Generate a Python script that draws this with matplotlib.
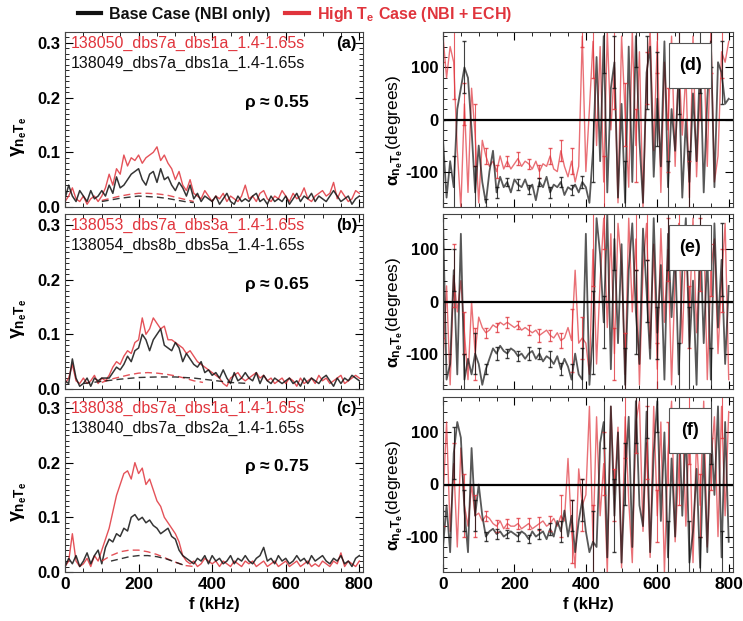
import numpy as np
import matplotlib
matplotlib.use("Agg")
import matplotlib.pyplot as plt
from matplotlib.lines import Line2D
from matplotlib.patches import Rectangle
from matplotlib.ticker import MultipleLocator

plt.rcParams['font.family'] = ['Liberation Sans', 'DejaVu Sans']
plt.rcParams['mathtext.fontset'] = 'custom'
plt.rcParams['mathtext.rm'] = 'Liberation Sans:bold'
plt.rcParams['mathtext.it'] = 'Liberation Sans:bold'
plt.rcParams['mathtext.bf'] = 'Liberation Sans:bold'

RED = '#e0343c'
BLK = '#111111'

freq = list(range(0, 801, 10))

# ---------------- coherence (left column) ----------------
a_red = [0.01,0.02,0.035,0.015,0.01,0.02,0.005,0.015,0.02,0.01,
         0.02,0.035,0.06,0.04,0.07,0.06,0.095,0.075,0.09,0.085,
         0.095,0.08,0.09,0.095,0.1,0.11,0.085,0.095,0.08,0.07,
         0.05,0.065,0.04,0.03,0.05,0.025,0.02,0.015,0.03,0.02,
         0.01,0.02,0.015,0.025,0.01,0.02,0.015,0.01,0.02,0.04,
         0.015,0.02,0.01,0.025,0.03,0.015,0.01,0.02,0.015,0.03,
         0.02,0.01,0.025,0.015,0.02,0.035,0.015,0.01,0.02,0.025,
         0.03,0.02,0.025,0.045,0.015,0.03,0.02,0.01,0.015,0.03,
         0.025]
a_blk = [0.015,0.04,0.02,0.01,0.03,0.02,0.01,0.03,0.015,0.02,
         0.03,0.02,0.04,0.025,0.055,0.035,0.04,0.05,0.06,0.065,
         0.07,0.05,0.04,0.06,0.065,0.045,0.07,0.05,0.055,0.04,
         0.03,0.045,0.035,0.02,0.04,0.015,0.025,0.01,0.02,0.015,
         0.01,0.02,0.005,0.015,0.025,0.01,0.005,0.02,0.01,0.015,
         0.01,0.02,0.025,0.01,0.015,0.005,0.02,0.01,0.015,0.01,
         0.02,0.005,0.015,0.025,0.01,0.02,0.015,0.025,0.01,0.02,
         0.015,0.01,0.02,0.03,0.02,0.01,0.015,0.02,0.005,0.015,
         0.02]
b_red = [0.01,0.02,0.045,0.015,0.01,0.02,0.01,0.015,0.025,0.01,
         0.02,0.015,0.025,0.04,0.05,0.045,0.06,0.07,0.065,0.085,
         0.09,0.13,0.1,0.11,0.13,0.12,0.11,0.115,0.09,0.09,
         0.085,0.08,0.075,0.065,0.07,0.06,0.05,0.045,0.04,0.035,
         0.03,0.025,0.02,0.01,0.005,0.02,0.025,0.03,0.02,0.015,
         0.02,0.025,0.03,0.02,0.025,0.015,0.02,0.01,0.015,0.02,
         0.01,0.02,0.015,0.005,0.02,0.01,0.015,0.02,0.01,0.025,
         0.015,0.02,0.01,0.015,0.02,0.025,0.01,0.015,0.02,0.025,
         0.02]
b_blk = [0.015,0.01,0.055,0.02,0.005,0.01,0.02,0.005,0.02,0.015,
         0.02,0.02,0.02,0.03,0.04,0.035,0.045,0.06,0.05,0.07,
         0.075,0.1,0.09,0.07,0.09,0.1,0.11,0.08,0.075,0.07,
         0.085,0.075,0.05,0.065,0.055,0.045,0.04,0.05,0.03,0.035,
         0.025,0.03,0.02,0.035,0.02,0.01,0.03,0.015,0.02,0.03,
         0.02,0.015,0.03,0.01,0.025,0.015,0.01,0.02,0.015,0.01,
         0.015,0.02,0.01,0.015,0.005,0.02,0.01,0.02,0.015,0.01,
         0.02,0.025,0.015,0.005,0.02,0.01,0.02,0.015,0.025,0.02,
         0.015]
c_red = [0.01,0.02,0.07,0.02,0.01,0.015,0.025,0.01,0.03,0.02,
         0.04,0.06,0.08,0.11,0.14,0.16,0.18,0.185,0.17,0.2,
         0.18,0.19,0.16,0.17,0.15,0.13,0.12,0.1,0.09,0.08,
         0.07,0.055,0.03,0.02,0.015,0.02,0.01,0.015,0.025,0.02,
         0.015,0.02,0.01,0.02,0.015,0.01,0.02,0.015,0.01,0.02,
         0.015,0.02,0.01,0.015,0.02,0.01,0.015,0.02,0.01,0.015,
         0.02,0.01,0.015,0.02,0.01,0.015,0.02,0.01,0.015,0.01,
         0.02,0.015,0.01,0.02,0.015,0.035,0.01,0.02,0.015,0.01,
         0.02]
c_blk = [0.01,0.025,0.015,0.03,0.01,0.02,0.035,0.015,0.03,0.04,
         0.015,0.045,0.06,0.055,0.07,0.065,0.08,0.075,0.1,0.105,
         0.095,0.1,0.09,0.095,0.085,0.08,0.07,0.075,0.08,0.065,
         0.06,0.04,0.03,0.025,0.02,0.015,0.025,0.02,0.03,0.015,
         0.03,0.02,0.025,0.015,0.02,0.03,0.015,0.025,0.02,0.03,
         0.02,0.015,0.025,0.03,0.045,0.02,0.025,0.015,0.03,0.02,
         0.025,0.015,0.02,0.03,0.02,0.025,0.015,0.03,0.02,0.025,
         0.03,0.02,0.015,0.025,0.02,0.03,0.015,0.02,0.01,0.025,
         0.03]

# significance levels (dashed)
a_red_sig_f = [100,125,150,175,200,225,250,275,300,325,350]
a_red_sig = [0.012,0.016,0.02,0.023,0.025,0.025,0.024,0.022,0.018,0.014,0.01]
a_blk_sig_f = [100,125,150,175,200,225,250,275,300,325,350]
a_blk_sig = [0.01,0.013,0.016,0.018,0.02,0.019,0.018,0.016,0.013,0.01,0.008]
b_red_sig_f = [100,125,150,175,200,225,250,275,300,325,350,375]
b_red_sig = [0.012,0.018,0.022,0.026,0.029,0.03,0.029,0.027,0.024,0.02,0.015,0.012]
b_blk_sig_f = [50,100,150,200,250,300,350,400,450,500]
b_blk_sig = [0.01,0.014,0.018,0.021,0.022,0.022,0.02,0.016,0.012,0.01]
c_red_sig_f = [100,125,150,175,200,225,250,275,300,325,350]
c_red_sig = [0.02,0.03,0.037,0.04,0.04,0.037,0.032,0.025,0.018,0.012,0.01]
c_blk_sig_f = [125,150,175,200,225,250,275,300,325]
c_blk_sig = [0.02,0.024,0.028,0.03,0.03,0.028,0.024,0.018,0.012]

# ---------------- cross-phase (right column) ----------------
d_blk = [-40,-150,-80,-130,20,60,100,80,-20,-140,
         -50,-120,-160,-100,-60,-140,-110,-130,-120,-140,
         -115,-125,-130,-115,-135,-125,-155,-120,-130,-110,
         -140,-125,-130,-120,-145,-130,-135,-125,-140,-120,
         -130,-160,-60,120,-80,160,-140,60,110,-150,
         30,-160,140,-120,160,-40,-160,90,140,-110,
         40,-90,150,-130,20,-60,90,-150,0,-120,
         50,-80,120,-140,40,150,-130,110,90,30,
         40]
d_red = [160,80,140,110,-60,-170,30,-140,60,-30,
         -160,-40,-70,-90,-80,-100,-70,-95,-80,-95,
         -85,-75,-90,-80,-85,-95,-80,-100,-85,-90,
         -70,-95,-100,-60,-90,-110,-80,-120,-90,160,
         -100,20,150,-50,140,-120,170,-20,100,-160,
         160,10,-130,170,-50,130,-170,80,170,-60,
         150,-140,110,-20,160,-90,120,-30,90,-150,
         160,-110,60,140,-90,170,-120,-70,130,110,
         150]
e_blk = [160,-150,-120,60,-140,130,-150,-110,-140,-100,
         -120,-160,-130,-110,-90,-100,-85,-95,-100,-90,
         -95,-105,-100,-110,-100,-95,-110,-100,-115,-105,
         -110,-120,-105,-130,-110,-125,-150,-100,-140,-150,
         130,-160,-60,160,90,-40,170,-130,120,-80,
         110,-160,60,150,-20,-120,140,20,-110,160,
         -60,70,-150,130,-30,100,-140,60,160,-90,
         40,-160,130,-80,90,-150,150,-50,80,-120,
         30]
e_red = [-120,30,-160,50,-20,40,-60,-150,0,-100,
         -30,-50,-60,-55,-45,-50,-40,-45,-40,-45,
         -50,-45,-55,-50,-55,-60,-55,-65,-60,-55,
         -65,-70,-60,-75,-70,-50,-75,60,-80,-70,
         -80,-140,100,-120,40,160,-50,130,-100,150,
         70,-140,160,-20,120,-160,60,150,-90,110,
         -130,140,-40,100,-160,50,150,-80,120,-30,
         160,-60,90,140,-150,60,120,-100,40,150,
         -150]
f_blk = [-120,-40,-130,60,120,90,-50,-130,70,-60,
         0,-60,-100,-90,-85,-95,-90,-100,-95,-90,
         -95,-100,-90,-95,-105,-90,-100,-95,-90,-105,
         -85,-100,-70,-90,-50,-100,-60,-130,-70,-30,
         -90,-130,-110,-120,80,120,-140,150,-60,100,
         -150,20,130,-120,160,-40,-80,140,-130,60,
         160,-70,100,-140,50,-100,140,-60,110,-150,
         -90,30,-160,70,-130,110,-20,150,-140,120,
         -110]
f_red = [-30,120,-90,40,-120,70,-40,-80,0,-60,
         -55,-70,-60,-65,-75,-80,-70,-85,-75,-80,
         -80,-75,-85,-80,-75,-85,-80,-75,-70,-80,
         -75,-65,-80,-60,-70,50,-90,-160,30,-40,
         -20,150,-110,130,-60,40,-170,150,-20,110,
         -160,130,-30,-150,120,160,-90,80,-140,150,
         -60,120,-170,60,160,-110,30,140,-80,120,
         -150,90,-40,160,-120,40,130,-100,150,-60,
         140]

# error bars shown on every third point (f = 0, 30, ..., 780)
d_blk_err = [40,60,50,50,8,10,8,10,9,8,10,9,10,12,60,70,50,80,60,70,90,50,80,60,70,50,60]
d_red_err = [50,70,40,60,15,12,10,12,10,12,15,20,25,20,70,50,80,60,70,50,60,80,50,70,60,80,50]
e_blk_err = [60,40,50,40,10,12,8,10,12,10,15,12,30,60,80,50,60,70,80,60,50,70,60,80,50,60,70]
e_red_err = [50,60,40,50,10,8,10,8,10,12,10,15,60,40,70,60,50,80,60,70,50,60,80,60,70,50,60]
f_blk_err = [70,50,40,30,8,10,8,9,8,10,12,20,30,40,60,50,70,60,80,50,60,70,50,80,60,70,50]
f_red_err = [50,40,60,40,10,12,8,10,10,12,15,40,60,50,70,60,50,80,60,70,50,60,70,80,60,50,60]

shots_red = ['138050_dbs7a_dbs1a_1.4-1.65s', '138053_dbs7a_dbs3a_1.4-1.65s', '138038_dbs7a_dbs1a_1.4-1.65s']
shots_blk = ['138049_dbs7a_dbs1a_1.4-1.65s', '138054_dbs8b_dbs5a_1.4-1.65s', '138040_dbs7a_dbs2a_1.4-1.65s']
rho_labels = [r'$\rho$ ≈ 0.55', r'$\rho$ ≈ 0.65', r'$\rho$ ≈ 0.75']
left_tags = ['(a)', '(b)', '(c)']
right_tags = ['(d)', '(e)', '(f)']

W, H = 743, 621
fig = plt.figure(figsize=(W / 100, H / 100), dpi=100)

def ax_px(x0, x1, y0, y1):
    return fig.add_axes([x0 / W, 1 - y1 / H, (x1 - x0) / W, (y1 - y0) / H])

rows = [(32, 207), (214, 389), (397, 572)]
left = [(a_red, a_blk, a_red_sig_f, a_red_sig, a_blk_sig_f, a_blk_sig),
        (b_red, b_blk, b_red_sig_f, b_red_sig, b_blk_sig_f, b_blk_sig),
        (c_red, c_blk, c_red_sig_f, c_red_sig, c_blk_sig_f, c_blk_sig)]
right = [(d_red, d_blk, d_red_err, d_blk_err),
         (e_red, e_blk, e_red_err, e_blk_err),
         (f_red, f_blk, f_red_err, f_blk_err)]

def style(ax, bottom, xmax):
    ax.tick_params(axis='both', which='both', direction='in', top=True, right=True)
    ax.tick_params(which='major', length=6, width=0.8)
    ax.tick_params(which='minor', length=3, width=0.6)
    ax.set_xlim(0, xmax)
    ax.xaxis.set_major_locator(MultipleLocator(200))
    ax.xaxis.set_minor_locator(MultipleLocator(50))
    for s in ax.spines.values():
        s.set_linewidth(0.8)
        s.set_color('#444444')
    for lab in ax.get_yticklabels():
        lab.set_fontsize(12); lab.set_fontweight('bold')
    if bottom:
        for lab in ax.get_xticklabels():
            lab.set_fontsize(12.5); lab.set_fontweight('bold')
        ax.set_xlabel('f (kHz)', fontsize=12, fontweight='bold', labelpad=4)
    else:
        ax.set_xticklabels([])

for i, (y0, y1) in enumerate(rows):
    r, k, rsf, rs, ksf, ks = left[i]
    ax = ax_px(65, 363, y0, y1)
    ax.plot(freq, r, color=RED, lw=1.0, alpha=0.85)
    ax.plot(freq, k, color=BLK, lw=1.1, alpha=0.85)
    ax.plot(rsf, rs, color=RED, lw=1.0, ls=(0, (5, 3)), alpha=0.85)
    ax.plot(ksf, ks, color=BLK, lw=1.0, ls=(0, (5, 3)), alpha=0.85)
    ax.set_ylim(0, 0.32)
    ax.yaxis.set_minor_locator(MultipleLocator(0.01))
    ax.set_yticks([0.0, 0.1, 0.2, 0.3])
    ax.set_yticklabels(['0.0', '0.1', '0.2', '0.3'])
    style(ax, i == 2, 810)
    ax.set_ylabel(r'$\gamma_{n_eT_e}$', fontsize=14)
    ax.yaxis.set_label_coords(-0.12, 0.4)
    ax.text(0.02, 0.935, shots_red[i], color=RED, fontsize=11.5, transform=ax.transAxes, va='center')
    ax.text(0.02, 0.82, shots_blk[i], color=BLK, fontsize=11.5, transform=ax.transAxes, va='center')
    ax.text(0.945, 0.935, left_tags[i], fontsize=12, fontweight='bold', transform=ax.transAxes,
            ha='center', va='center')
    ax.text(0.71, 0.6, rho_labels[i], fontsize=12.5, fontweight='bold', transform=ax.transAxes,
            ha='center', va='center')

    r2, k2, re, ke = right[i]
    axr = ax_px(443, 733, y0, y1)
    axr.plot(freq, r2, color=RED, lw=1.0, alpha=0.7)
    axr.plot(freq, k2, color=BLK, lw=1.3, alpha=0.7)
    axr.errorbar(freq[::3], r2[::3], yerr=re, fmt='none', ecolor=RED, elinewidth=0.8,
                 capsize=1.5, alpha=0.8)
    axr.errorbar(freq[::3], k2[::3], yerr=ke, fmt='none', ecolor=BLK, elinewidth=0.8,
                 capsize=1.5, alpha=0.8)
    axr.axhline(0, color='black', lw=1.6)
    axr.set_ylim(-168, 168)
    axr.set_yticks([-100, 0, 100])
    axr.set_yticklabels(['-100', '0', '100'])
    axr.yaxis.set_minor_locator(MultipleLocator(20))
    style(axr, i == 2, 812)
    axr.set_ylabel(r'$\alpha_{n_eT_e}$(degrees)', fontsize=12.5)
    axr.yaxis.set_label_coords(-0.13, 0.44)
    axr.add_patch(Rectangle((0.78, 0.68), 0.145, 0.26, transform=axr.transAxes,
                            facecolor='white', edgecolor='#555555', lw=0.8, zorder=5))
    axr.text(0.78 + 0.0725, 0.81, right_tags[i], fontsize=13, fontweight='bold',
             transform=axr.transAxes, ha='center', va='center', zorder=6)

handles = [Line2D([], [], color=BLK, lw=3), Line2D([], [], color=RED, lw=3)]
labels = ['Base Case (NBI only)', r'High T$_\mathbf{e}$ Case (NBI + ECH)']
leg = fig.legend(handles, labels, loc='upper left', bbox_to_anchor=(0.085, 1.015), ncol=2,
                 frameon=False, handlelength=1.5, columnspacing=0.9, handletextpad=0.5,
                 prop=dict(size=11.5, weight='bold'))
for t, c in zip(leg.get_texts(), [BLK, RED]):
    t.set_color(c)

fig.savefig('out.png', dpi=100)
